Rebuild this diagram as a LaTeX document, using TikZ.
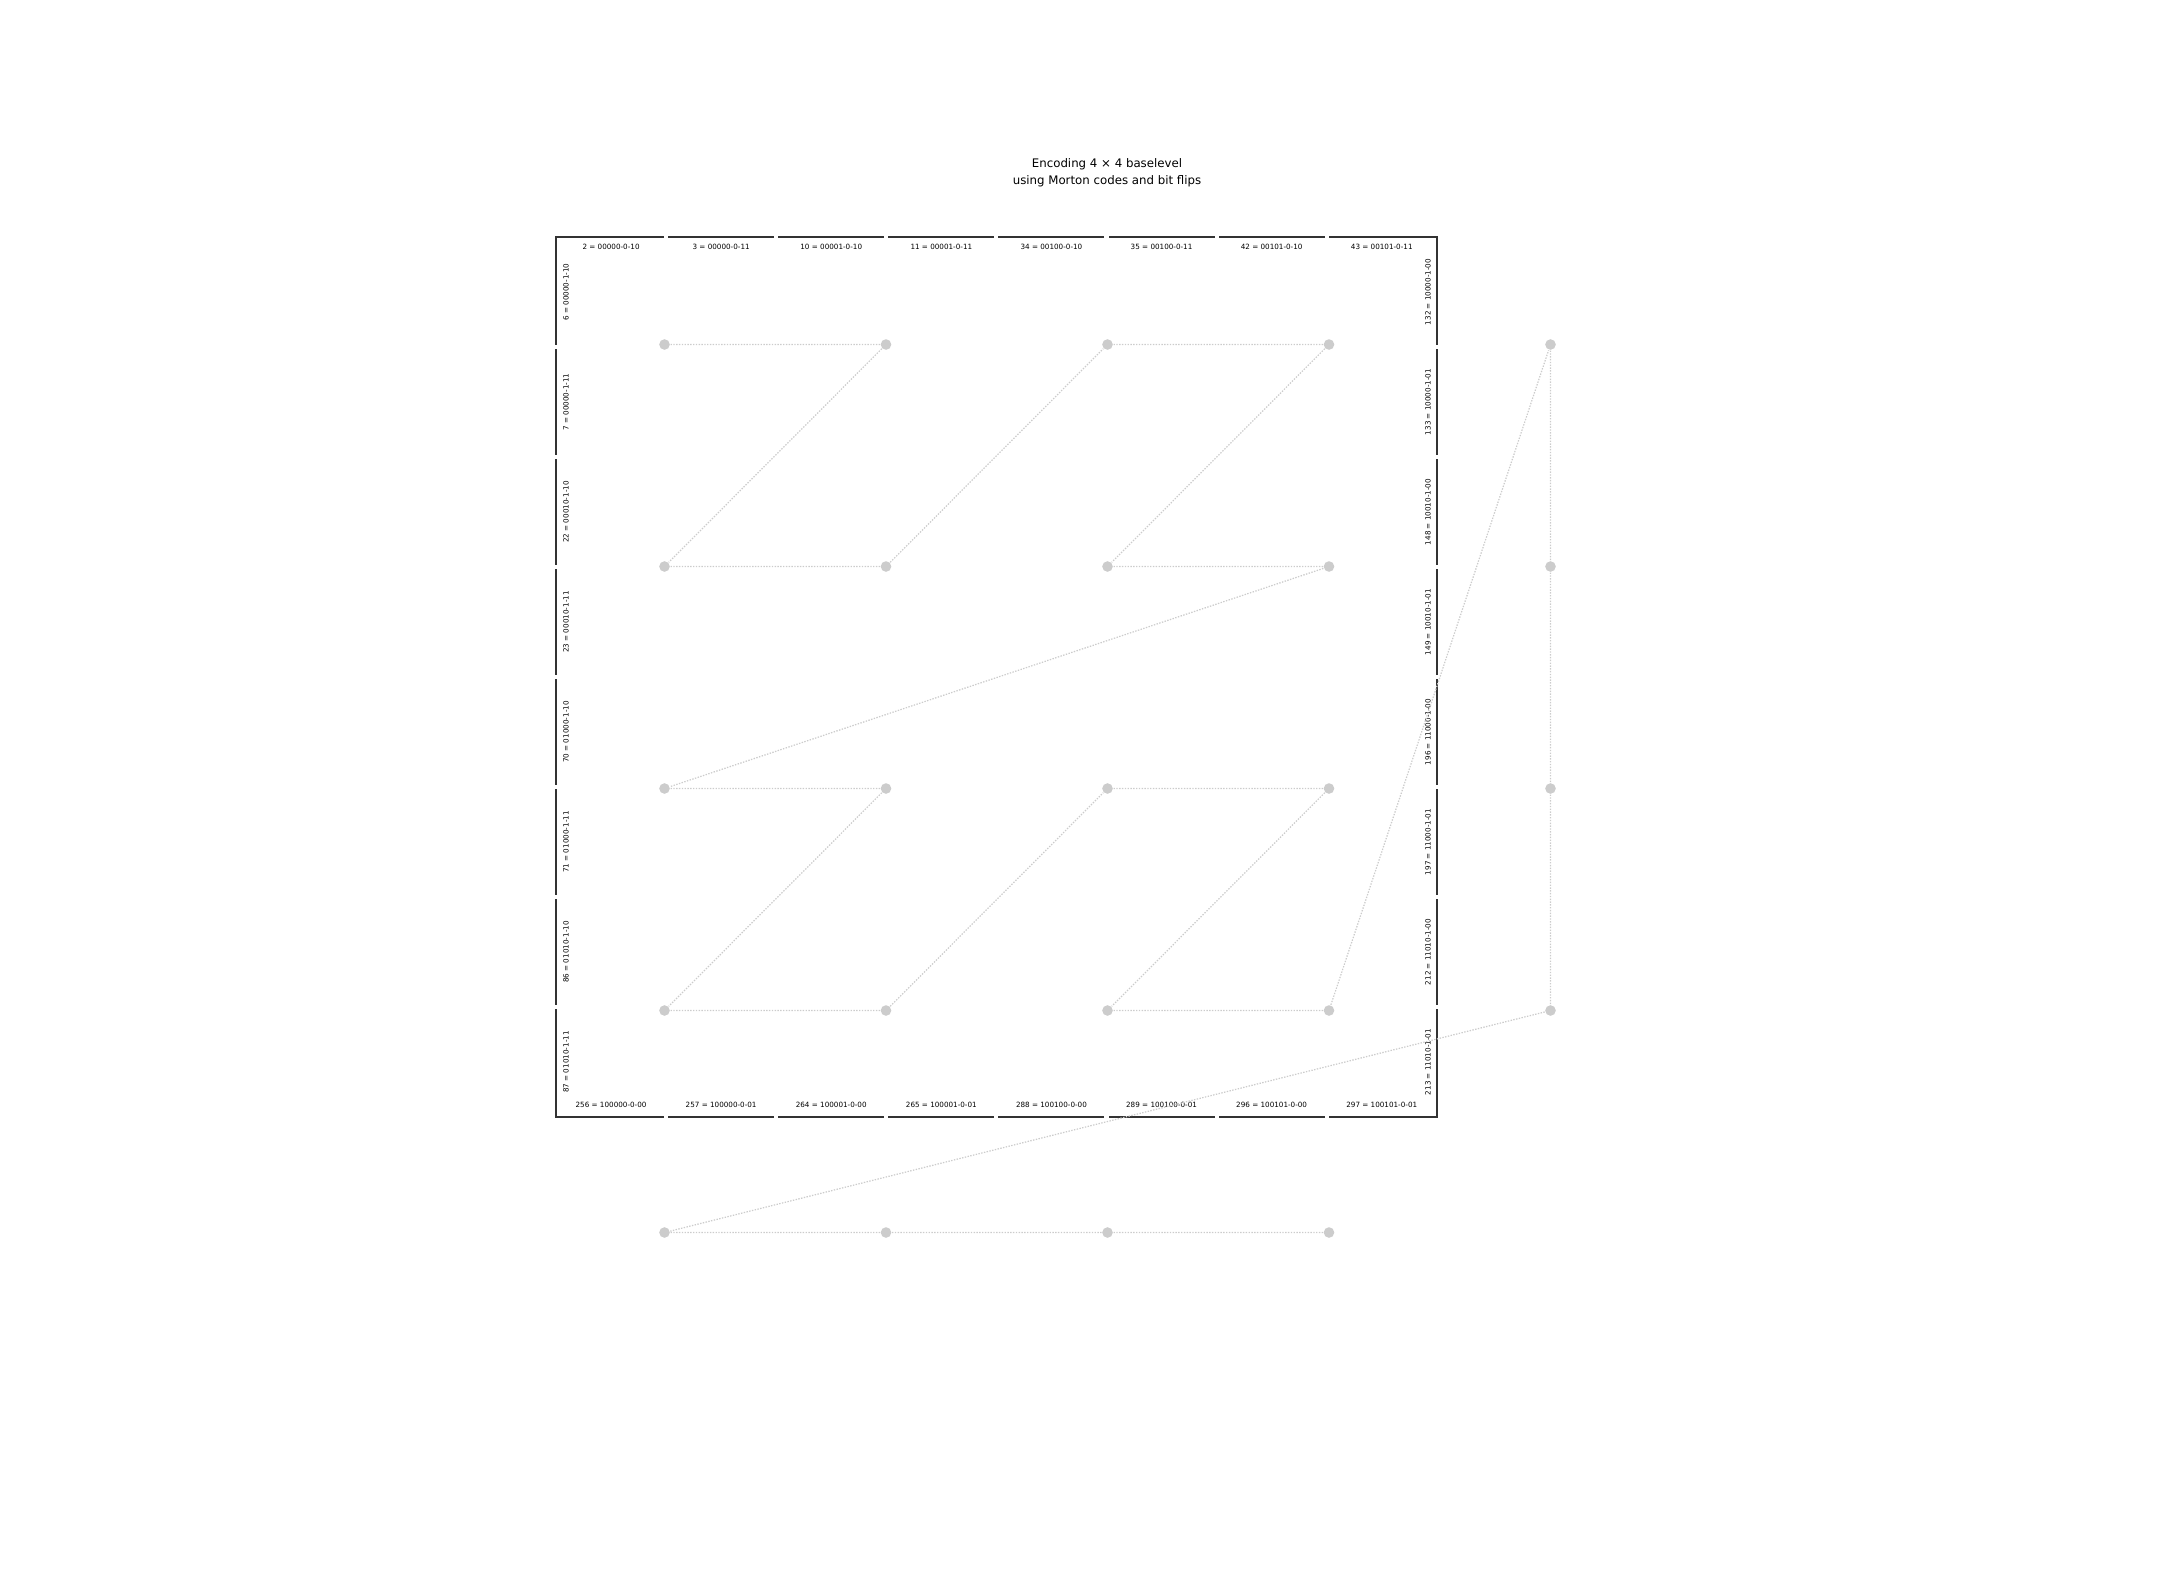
\documentclass[tikz,border=0pt]{standalone}
\usepackage{fontspec}
\setmainfont{DejaVu Sans}
\definecolor{dotgray}{HTML}{CCCCCC}
\definecolor{edgegray}{HTML}{333333}
\tikzset{
  seg/.style={draw=edgegray, line width=0.55pt, line cap=rect},
  lbl/.style={inner sep=0pt, font=\fontsize{2.05}{2.4}\selectfont},
  pt/.style={circle, fill=dotgray, inner sep=0pt, minimum size=0.106cm},
  link/.style={draw=dotgray, line width=0.35pt, dash pattern=on 0.4pt off 0.4pt}
}
\begin{document}
\begin{tikzpicture}[x=0.01cm, y=-0.01cm]
  \useasboundingbox (0,0) rectangle (2160,1584);
  % title
  \node[align=center, inner sep=0pt, font=\fontsize{3.35}{4.84}\selectfont] (title) at (1107,172.5)
    {Encoding 4 × 4 baselevel\\using Morton codes and bit flips};
  % the boundary, split in half cells
  \foreach \k in {0,...,7} {
    \pgfmathsetmacro{\a}{556+110.1*\k+(\k>0)*3}
    \pgfmathsetmacro{\b}{556+110.1*(\k+1)-(\k<7)*3}
    \pgfmathsetmacro{\ya}{237+110*\k+(\k>0)*3}
    \pgfmathsetmacro{\yb}{237+110*(\k+1)-(\k<7)*3}
    \draw[seg] (\a,237) -- (\b,237);
    \draw[seg] (\a,1117) -- (\b,1117);
    \draw[seg] (556,\ya) -- (556,\yb);
    \draw[seg] (1437,\ya) -- (1437,\yb);
  }
  % labels on the four sides
  \foreach \t [count=\i from 0] in {2 = 00000-0-10, 3 = 00000-0-11, 10 = 00001-0-10, 11 = 00001-0-11,
      34 = 00100-0-10, 35 = 00100-0-11, 42 = 00101-0-10, 43 = 00101-0-11}
    \node[lbl] (t\i) at (611.05+110.1*\i,247) {\t};
  \foreach \t [count=\i from 0] in {256 = 100000-0-00, 257 = 100000-0-01, 264 = 100001-0-00, 265 = 100001-0-01,
      288 = 100100-0-00, 289 = 100100-0-01, 296 = 100101-0-00, 297 = 100101-0-01}
    \node[lbl] (b\i) at (611.05+110.1*\i,1105) {\t};
  \foreach \t [count=\i from 0] in {6 = 00000-1-10, 7 = 00000-1-11, 22 = 00010-1-10, 23 = 00010-1-11,
      70 = 01000-1-10, 71 = 01000-1-11, 86 = 01010-1-10, 87 = 01010-1-11}
    \node[lbl, rotate=90] (l\i) at (566,292+110*\i) {\t};
  \foreach \t [count=\i from 0] in {132 = 10000-1-00, 133 = 10000-1-01, 148 = 10010-1-00, 149 = 10010-1-01,
      196 = 11000-1-00, 197 = 11000-1-01, 212 = 11010-1-00, 213 = 11010-1-01}
    \node[lbl, rotate=90] (r\i) at (1428,292+110*\i) {\t};
  % the cell centres and the extra ones
  \foreach \c in {0,...,3} {
    \foreach \r in {0,...,3}
      \node[pt] (d\c\r) at (664.5+221.5*\c,344.5+222*\r) {};
    \node[pt] (d\c4) at (664.5+221.5*\c,344.5+222*4) {};
    \node[pt] (d4\c) at (664.5+221.5*4,344.5+222*\c) {};
  }
  % morton order
  \draw[link] (d00) -- (d10) -- (d01) -- (d11) -- (d20) -- (d30) -- (d21) -- (d31)
    -- (d02) -- (d12) -- (d03) -- (d13) -- (d22) -- (d32) -- (d23) -- (d33)
    -- (d40) -- (d41) -- (d42) -- (d43) -- (d04) -- (d14) -- (d24) -- (d34);
\end{tikzpicture}
\end{document}
